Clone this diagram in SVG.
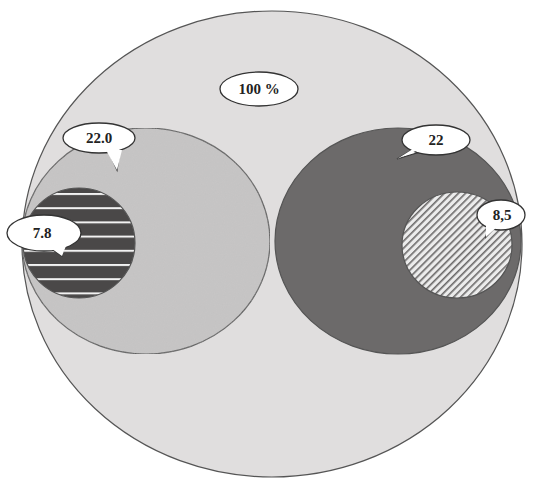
<svg xmlns="http://www.w3.org/2000/svg" width="543" height="479" viewBox="0 0 543 479">
<defs>
<style>
.outline{stroke:#555;stroke-width:1.2}
.bub{fill:#fff;stroke:#333;stroke-width:1.3}
.tailfill{fill:#fff;stroke:none}
.lbl{font-family:"Liberation Serif",serif;font-weight:bold;font-size:15px;fill:#222;text-anchor:middle}
</style>
<pattern id="hstripe" patternUnits="userSpaceOnUse" width="20" height="14.2" y="193">
<rect width="20" height="14.2" fill="#4a4848"/>
<rect y="0" width="20" height="2" fill="#f2f2f2"/>
</pattern>
<pattern id="diag" patternUnits="userSpaceOnUse" width="5" height="5" patternTransform="rotate(45)">
<rect width="5" height="5" fill="#ececec"/>
<rect width="1.6" height="5" fill="#6a6868"/>
</pattern>
<filter id="grain" x="0" y="0" width="1" height="1">
<feTurbulence type="fractalNoise" baseFrequency="0.9" numOctaves="2" seed="3" result="n"/>
<feColorMatrix in="n" type="matrix" values="0 0 0 0 0.5  0 0 0 0 0.5  0 0 0 0 0.5  0 0 0 0.35 0" result="g"/>
<feComposite in="g" in2="SourceGraphic" operator="in" result="gc"/>
<feMerge><feMergeNode in="SourceGraphic"/><feMergeNode in="gc"/></feMerge>
</filter>
</defs>

<g id="total">
<ellipse cx="272" cy="244" rx="250" ry="233" fill="#e0dede" class="outline"/>
</g>
<g id="left-set">
<ellipse cx="146" cy="241" rx="124" ry="113" fill="#c8c6c6" class="outline" filter="url(#grain)"/>
</g>
<g id="right-set">
<ellipse cx="398" cy="241" rx="123" ry="113" fill="#6c6a6a" class="outline"/>
</g>
<g id="left-sub">
<ellipse cx="79" cy="243" rx="56" ry="55" fill="url(#hstripe)" class="outline"/>
</g>
<g id="right-sub">
<ellipse cx="457" cy="245" rx="55" ry="53" fill="url(#diag)" class="outline"/>
</g>

<g id="connectors">
<path d="M108,150 L117,170 L120,150 Z" class="bub"/>
<path d="M420,152 L397,159 L412,150 Z" class="bub"/>
<path d="M50,248 L62,256 L64,248 Z" class="bub"/>
<path d="M488,226 L486,237 L496,226 Z" class="bub"/>
</g>

<g id="label-100">
<ellipse cx="259" cy="89" rx="39" ry="17" class="bub"/>
<text x="259" y="94" class="lbl">100 %</text>
</g>
<g id="label-22-0">
<ellipse cx="99" cy="138" rx="36" ry="15" class="bub"/>
<path d="M106,150 L117,170 L122,150 Z" class="tailfill"/>
<text x="99" y="143" class="lbl">22.0</text>
</g>
<g id="label-22">
<ellipse cx="436" cy="140" rx="34" ry="15" class="bub"/>
<path d="M418,150 L397,159 L416,147 Z" class="tailfill"/>
<text x="436" y="145" class="lbl">22</text>
</g>
<g id="label-7-8">
<ellipse cx="44" cy="233" rx="37" ry="18" class="bub"/>
<path d="M48,246 L62,256 L66,246 Z" class="tailfill"/>
<text x="42" y="238" class="lbl">7.8</text>
</g>
<g id="label-8-5">
<ellipse cx="501" cy="215" rx="24" ry="15" class="bub"/>
<path d="M486,224 L486,237 L498,226 Z" class="tailfill"/>
<text x="502" y="220" class="lbl">8,5</text>
</g>
</svg>
